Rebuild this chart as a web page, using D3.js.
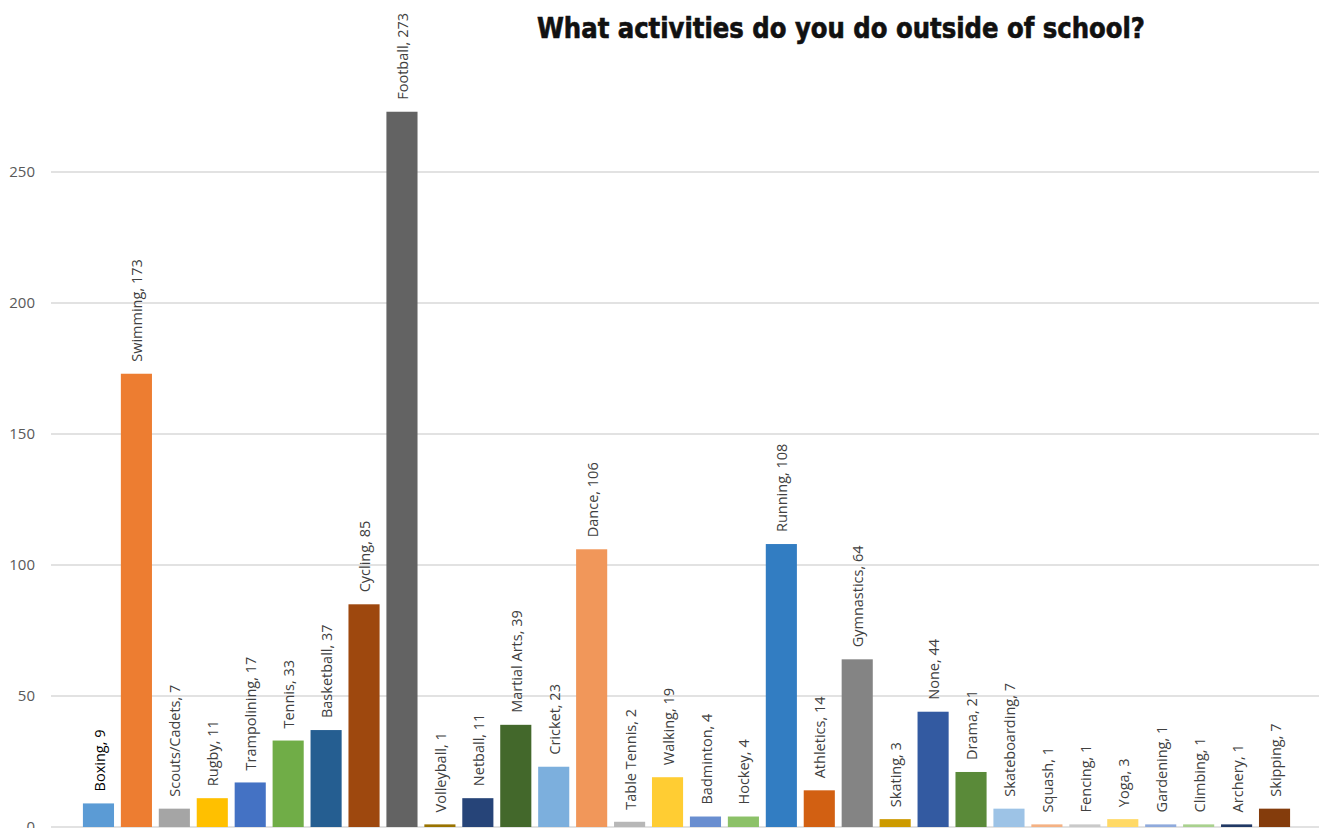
<!DOCTYPE html>
<html><head><meta charset="utf-8">
<script src="https://cdn.jsdelivr.net/npm/d3@7"></script>
<style>html,body{margin:0;padding:0;background:#fff;overflow:hidden}</style>
</head><body>
<svg id="c" width="1319" height="828"></svg>
<script>
const categories = ["Boxing","Swimming","Scouts/Cadets","Rugby","Trampolining","Tennis","Basketball","Cycling","Football","Volleyball","Netball","Martial Arts","Cricket","Dance","Table Tennis","Walking","Badminton","Hockey","Running","Athletics","Gymnastics","Skating","None","Drama","Skateboarding","Squash","Fencing","Yoga","Gardening","Climbing","Archery","Skipping"];
const values = [9,173,7,11,17,33,37,85,273,1,11,39,23,106,2,19,4,4,108,14,64,3,44,21,7,1,1,3,1,1,1,7];
const colors = ["#5B9BD5","#ED7D31","#A5A5A5","#FFC000","#4472C4","#70AD47","#255E91","#9E480E","#636363","#997300","#264478","#43682B","#7CAFDD","#F1975A","#B7B7B7","#FFCD33","#698ED0","#8CC168","#327DC2","#D26012","#848484","#CC9A00","#335AA1","#5A8A39","#9DC3E6","#F4B183","#C9C9C9","#FFD966","#8FAADC","#A9D18E","#203864","#843C0C"];
const yTicks = [0,50,100,150,200,250];
const title = "What activities do you do outside of school?";

const svg = d3.select("#c");
const x = d3.scaleBand().domain(categories).range([79.5, 1293.5]).paddingInner(0.18).paddingOuter(0.09);
const y = d3.scaleLinear().domain([0,250]).range([827,172]);

// gridlines
svg.append("g").selectAll("line").data(yTicks).join("line")
  .attr("x1",51).attr("x2",1319)
  .attr("y1",d=>y(d)).attr("y2",d=>y(d))
  .attr("stroke","#D9D9D9").attr("stroke-width",1.3);

// y tick labels
svg.append("g").selectAll("text").data(yTicks).join("text")
  .attr("x",35).attr("y",d=>y(d)).attr("dy","0.36em")
  .attr("text-anchor","end")
  .attr("font-family","Open Sans, sans-serif").attr("font-size",15)
  .attr("fill","#595959").text(d=>d);

// bars
svg.append("g").selectAll("rect").data(categories).join("rect")
  .attr("x",d=>x(d)).attr("width",x.bandwidth())
  .attr("y",(d,i)=>y(values[i])).attr("height",(d,i)=>y(0)-y(values[i]))
  .attr("fill",(d,i)=>colors[i]);

// labels
svg.append("g").selectAll("text").data(categories).join("text")
  .attr("transform",(d,i)=>`translate(${x(d)+x.bandwidth()/2+1},${y(values[i])-12}) rotate(-90)`)
  .attr("text-anchor","start").attr("dy","0.35em")
  .attr("font-family","Open Sans, sans-serif").attr("font-size",14.5)
  .attr("fill",(d,i)=>i===0?"#000":"#404040")
  .text((d,i)=>`${d}, ${values[i]}`);

// title
svg.append("text").attr("x",537).attr("y",38)
  .attr("font-family","DejaVu Sans Condensed, DejaVu Sans, sans-serif")
  .attr("font-weight","bold").attr("font-size",28)
  .attr("fill","#111").attr("stroke","#111").attr("stroke-width",0.6)
  .attr("textLength",608).attr("lengthAdjust","spacingAndGlyphs")
  .text(title);
</script>
</body></html>
